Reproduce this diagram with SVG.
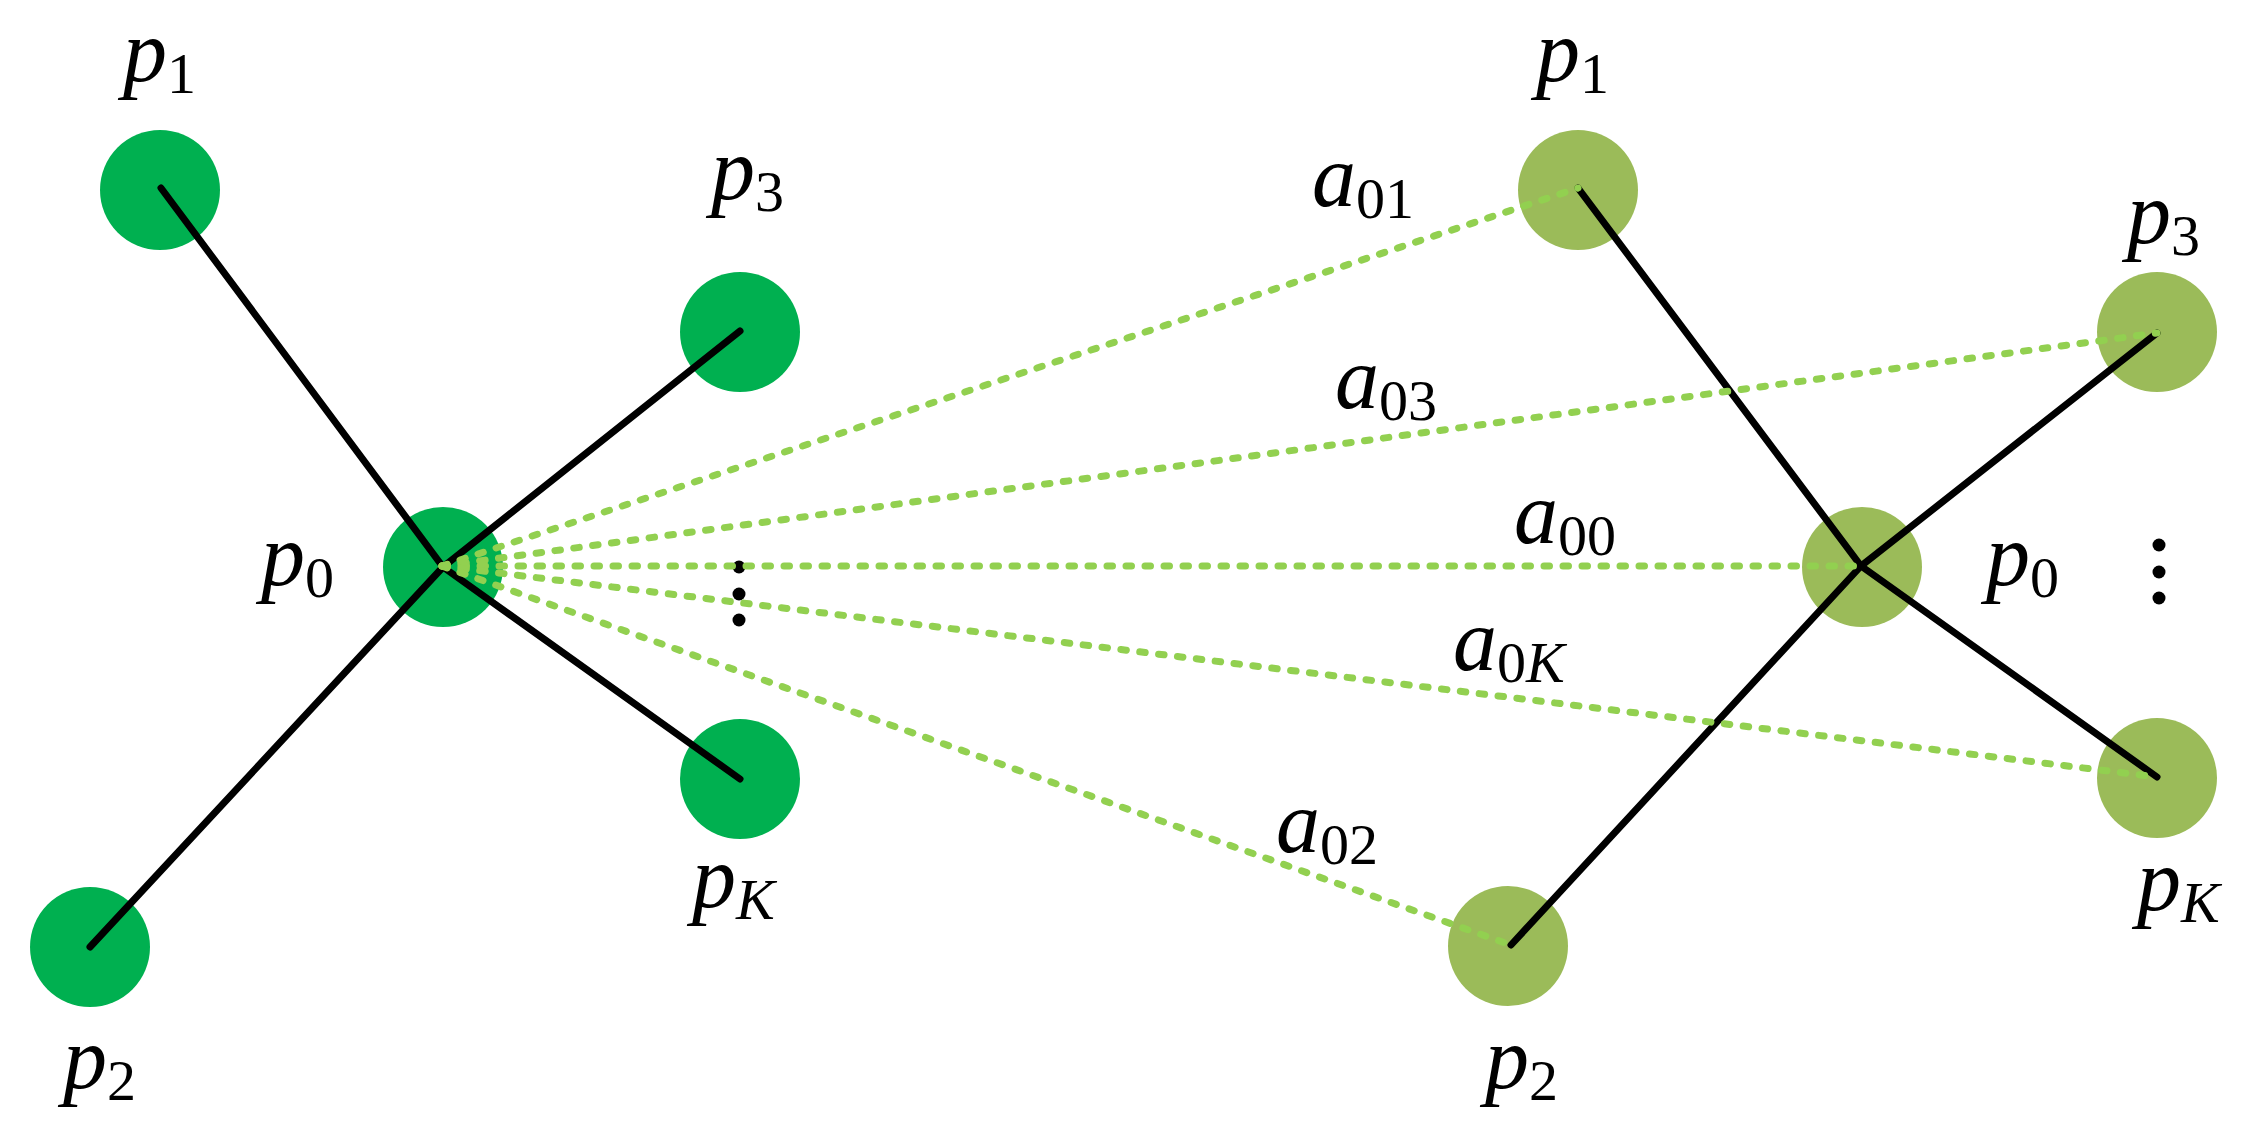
<svg xmlns="http://www.w3.org/2000/svg" width="2250" height="1135" viewBox="0 0 2250 1135">
<style>
.bg{fill:#ffffff}
.nl{fill:#00B050}
.nr{fill:#9BBB59}
.edge{stroke:#000000;stroke-width:7;stroke-linecap:round;fill:none}
.corr{stroke:#92D050;stroke-width:7;stroke-linecap:round;stroke-dasharray:5.5 13.5;fill:none}
text{font-family:'Liberation Serif',serif;font-size:88px;fill:#000000}
.it{font-style:italic}
.sub{font-size:58px;font-style:normal}
.subi{font-size:58px;font-style:italic}
.dot{fill:#000000}
</style>
<rect class="bg" x="0" y="0" width="2250" height="1135"/>

<g id="left-nodes">
  <g id="L-p1"><circle class="nl" cx="160" cy="190" r="60"/></g>
  <g id="L-p3"><circle class="nl" cx="740" cy="332" r="60"/></g>
  <g id="L-p0"><circle class="nl" cx="443" cy="567" r="60"/></g>
  <g id="L-pK"><circle class="nl" cx="740" cy="779" r="60"/></g>
  <g id="L-p2"><circle class="nl" cx="90" cy="947" r="60"/></g>
</g>
<g id="right-nodes">
  <g id="R-p1"><circle class="nr" cx="1578" cy="190" r="60"/></g>
  <g id="R-p3"><circle class="nr" cx="2157" cy="332" r="60"/></g>
  <g id="R-p0"><circle class="nr" cx="1862" cy="567" r="60"/></g>
  <g id="R-pK"><circle class="nr" cx="2157" cy="778" r="60"/></g>
  <g id="R-p2"><circle class="nr" cx="1508" cy="946" r="60"/></g>
</g>

<g id="ellipsis">
  <circle class="dot" cx="739" cy="567" r="6.5"/>
  <circle class="dot" cx="739" cy="594" r="6.5"/>
  <circle class="dot" cx="739" cy="620" r="6.5"/>
  <circle class="dot" cx="2159" cy="545" r="6.5"/>
  <circle class="dot" cx="2159" cy="572" r="6.5"/>
  <circle class="dot" cx="2159" cy="598" r="6.5"/>
</g>

<g id="connectors">
  <line class="edge" x1="443" y1="567" x2="161" y2="188"/>
  <line class="edge" x1="443" y1="567" x2="740" y2="331"/>
  <line class="edge" x1="443" y1="567" x2="740" y2="779"/>
  <line class="edge" x1="443" y1="567" x2="90" y2="947"/>
  <line class="edge" x1="1861" y1="566" x2="1578" y2="188"/>
  <line class="edge" x1="1861" y1="566" x2="2157" y2="333"/>
  <line class="edge" x1="1861" y1="566" x2="2157" y2="777"/>
  <line class="edge" x1="1861" y1="566" x2="1511" y2="945"/>
  <line class="corr" x1="442" y1="566" x2="1578" y2="188"/>
  <line class="corr" x1="442" y1="566" x2="2157" y2="333"/>
  <line class="corr" x1="442" y1="566" x2="1861" y2="566"/>
  <line class="corr" x1="442" y1="566" x2="2157" y2="777"/>
  <line class="corr" x1="442" y1="566" x2="1511" y2="945"/>
</g>

<g id="node-labels">
  <text x="123" y="81"><tspan class="it">p</tspan><tspan class="sub" dy="12">1</tspan></text>
  <text x="711" y="199"><tspan class="it">p</tspan><tspan class="sub" dy="12">3</tspan></text>
  <text x="261" y="585"><tspan class="it">p</tspan><tspan class="sub" dy="12">0</tspan></text>
  <text x="692" y="907"><tspan class="it">p</tspan><tspan class="subi" dy="12">K</tspan></text>
  <text x="63" y="1088"><tspan class="it">p</tspan><tspan class="sub" dy="12">2</tspan></text>
  <text x="1536" y="81"><tspan class="it">p</tspan><tspan class="sub" dy="12">1</tspan></text>
  <text x="2127" y="243"><tspan class="it">p</tspan><tspan class="sub" dy="12">3</tspan></text>
  <text x="1986" y="585"><tspan class="it">p</tspan><tspan class="sub" dy="12">0</tspan></text>
  <text x="2137" y="910"><tspan class="it">p</tspan><tspan class="subi" dy="12">K</tspan></text>
  <text x="1485" y="1088"><tspan class="it">p</tspan><tspan class="sub" dy="12">2</tspan></text>
</g>

<g id="edge-labels">
  <text x="1312" y="206"><tspan class="it">a</tspan><tspan class="sub" dy="12">01</tspan></text>
  <text x="1335" y="408"><tspan class="it">a</tspan><tspan class="sub" dy="12">03</tspan></text>
  <text x="1514" y="543"><tspan class="it">a</tspan><tspan class="sub" dy="12">00</tspan></text>
  <text x="1453" y="670"><tspan class="it">a</tspan><tspan class="sub" dy="12">0</tspan><tspan class="subi">K</tspan></text>
  <text x="1276" y="852"><tspan class="it">a</tspan><tspan class="sub" dy="12">02</tspan></text>
</g>
</svg>
